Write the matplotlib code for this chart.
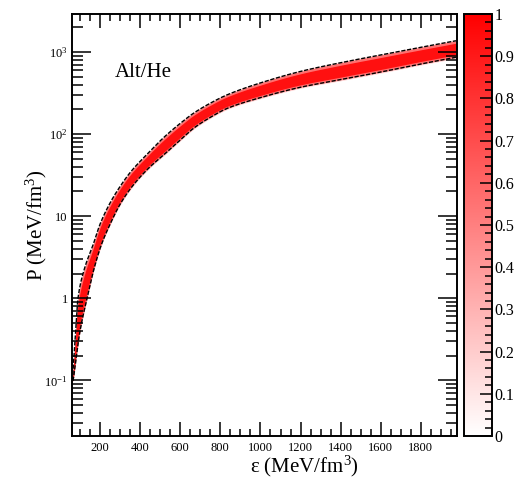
import numpy as np
import matplotlib
matplotlib.use("Agg")
from matplotlib import pyplot as plt
from matplotlib.colors import LinearSegmentedColormap, Normalize
from matplotlib.ticker import FixedLocator, FixedFormatter, MultipleLocator, LogLocator, NullFormatter
import matplotlib.cm as cm

plt.rcParams['font.family'] = ['Liberation Serif', 'DejaVu Serif']
plt.rcParams['mathtext.fontset'] = 'custom'
plt.rcParams['mathtext.rm'] = 'Liberation Serif'
plt.rcParams['mathtext.it'] = 'Liberation Serif:italic'

# upper edge of the band (energy density, pressure)
eps_upper = [62, 75, 90, 120, 167, 200, 250, 292, 350, 441, 520, 608, 667, 750,
             833, 1000, 1200, 1400, 1600, 1800, 1975]
p_upper = [0.1, 0.3, 1.0, 2.2, 4.6, 8, 14.5, 21.5, 34, 59, 92, 140, 180, 238,
           300, 420, 580, 740, 920, 1140, 1370]

# lower edge of the band
eps_lower = [66, 100, 135, 170, 208, 250, 300, 358, 440, 525, 600, 667, 750,
             833, 1000, 1200, 1400, 1600, 1800, 1975]
p_lower = [0.1, 0.4, 1.0, 2.3, 4.6, 8, 14, 22.7, 38, 58, 85, 118, 160,
           205, 278, 372, 460, 570, 714, 862]


def pchip(x, y, xn):
    # monotone cubic interpolation
    x = np.asarray(x, float)
    y = np.asarray(y, float)
    h = np.diff(x)
    d = np.diff(y) / h
    m = np.zeros_like(y)
    for k in range(1, len(x) - 1):
        if d[k - 1] * d[k] > 0:
            w1 = 2 * h[k] + h[k - 1]
            w2 = h[k] + 2 * h[k - 1]
            m[k] = (w1 + w2) / (w1 / d[k - 1] + w2 / d[k])
    m[0] = d[0]
    m[-1] = d[-1]
    i = np.clip(np.searchsorted(x, xn) - 1, 0, len(x) - 2)
    t = (xn - x[i]) / h[i]
    h00 = 2 * t ** 3 - 3 * t ** 2 + 1
    h10 = t ** 3 - 2 * t ** 2 + t
    h01 = -2 * t ** 3 + 3 * t ** 2
    h11 = t ** 3 - t ** 2
    return h00 * y[i] + h10 * h[i] * m[i] + h01 * y[i + 1] + h11 * h[i] * m[i + 1]


eps = np.linspace(62, 1975, 600)
lu = pchip(eps_upper, np.log10(p_upper), eps)
ll = pchip(eps_lower, np.log10(p_lower), np.maximum(eps, eps_lower[0]))
ll = np.minimum(ll, lu)
up = 10 ** lu
lo = 10 ** ll

fig = plt.figure(figsize=(5.27, 4.8), dpi=100)
ax = fig.add_axes([0.1366, 0.0917, 0.7305, 0.8791])
cax = fig.add_axes([0.8805, 0.0917, 0.0531, 0.8791])

# band: light edges, red core
ax.fill_between(eps, up * 1.03, lo / 1.03, color='#ffd0d0', lw=0)
ax.fill_between(eps, up, lo, color='#ff7070', lw=0)
ax.fill_between(eps, 10 ** (lu - 0.15 * (lu - ll)), 10 ** (ll + 0.15 * (lu - ll)),
                color='#ff1010', lw=0)
ax.plot(eps, up, color='black', lw=1.0, ls=(0, (3, 1.2)))
ax.plot(eps, lo, color='black', lw=1.0, ls=(0, (3, 1.2)))

ax.set_yscale('log')
ax.set_xlim(60, 1980)
ax.set_ylim(0.021, 2900)

ax.set_xticks([200, 400, 600, 800, 1000, 1200, 1400, 1600, 1800])
ax.xaxis.set_minor_locator(MultipleLocator(50))

yticks = [0.1, 1, 10, 100, 1000]
ylabels = ['$10^{-1}$', '1', '10', '$10^{2}$', '$10^{3}$']
ax.yaxis.set_major_locator(FixedLocator(yticks))
ax.yaxis.set_major_formatter(FixedFormatter(ylabels))
ax.yaxis.set_minor_locator(LogLocator(base=10, subs=np.arange(2, 10)))
ax.yaxis.set_minor_formatter(NullFormatter())

ax.tick_params(which='both', direction='in', top=True, right=True, width=1.1, labelsize=9)
ax.tick_params(axis='x', which='major', length=10, pad=4)
ax.tick_params(axis='x', which='minor', length=5)
ax.tick_params(axis='y', which='major', length=14, pad=3)
ax.tick_params(axis='y', which='minor', length=8)
for s in ax.spines.values():
    s.set_linewidth(1.4)

ax.set_xlabel('ε (MeV/fm$^{3}$)', fontsize=15)
ax.xaxis.set_label_coords(0.605, -0.043)
ax.set_ylabel('P (MeV/fm$^{3}$)', fontsize=15)
ax.yaxis.set_label_coords(-0.06, 0.5)

ax.text(0.112, 0.862, 'Alt/He', transform=ax.transAxes, fontsize=15, va='center', ha='left')

# colour scale
cmap = LinearSegmentedColormap.from_list('wr', ['#ffffff', '#ff0000'])
cb = fig.colorbar(cm.ScalarMappable(norm=Normalize(0, 1), cmap=cmap), cax=cax)
cb.set_ticks(np.arange(0, 1.01, 0.1))
cb.set_ticklabels(['0', '0.1', '0.2', '0.3', '0.4', '0.5', '0.6', '0.7', '0.8', '0.9', '1'])
cb.ax.yaxis.set_minor_locator(MultipleLocator(0.02))
cb.ax.tick_params(which='both', direction='in', width=1.1, labelsize=11.5, pad=2)
cb.ax.tick_params(which='major', length=9)
cb.ax.tick_params(which='minor', length=5)
cb.outline.set_linewidth(1.4)

fig.savefig('out.png', dpi=100)
